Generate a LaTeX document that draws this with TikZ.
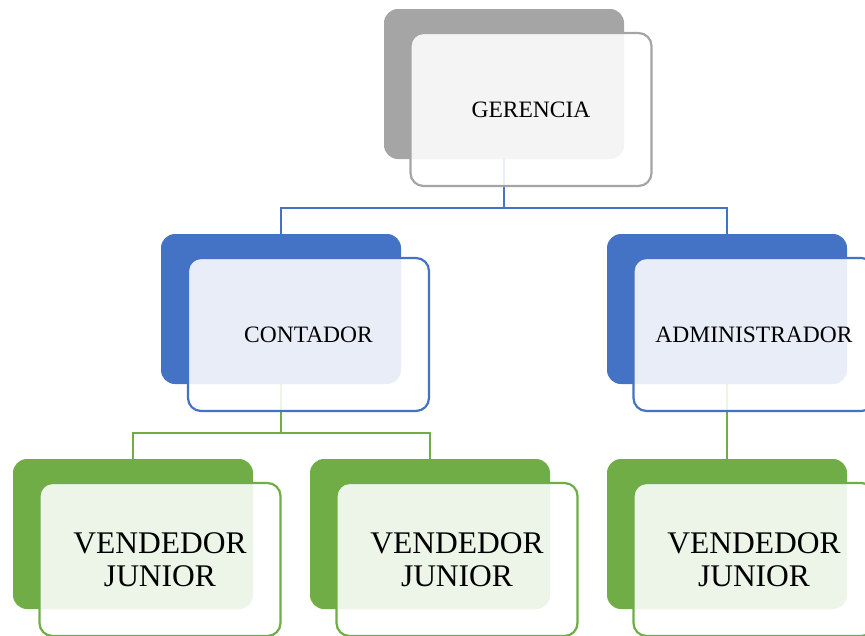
\documentclass[tikz,border=0pt]{standalone}
\usepackage{fontspec}
\setmainfont{Liberation Serif}
\usetikzlibrary{backgrounds}
\definecolor{boxgrey}{HTML}{A5A5A5}
\definecolor{boxblue}{HTML}{4472C4}
\definecolor{boxgreen}{HTML}{70AD47}

\begin{document}
\begin{tikzpicture}[
    x=1pt, y=-1pt,
    back/.style={rectangle, rounded corners=14pt, minimum width=240pt, minimum height=150pt, inner sep=0pt, fill=#1},
    front/.style={rectangle, rounded corners=13pt, minimum width=241pt, minimum height=153pt, inner sep=0pt,
        draw=#1, line width=2.2pt, fill=white, fill opacity=0.88, text opacity=1, align=center},
    link/.style={line width=2pt, draw=#1},
    small label/.style={font=\fontsize{23.5}{26}\selectfont},
    big label/.style={font=\fontsize{31.5}{33}\selectfont}
]
\useasboundingbox (0,0) rectangle (865,635);

% Top level
\node[back=boxgrey] (gerB) at (504,84) {};
\node[front=boxgrey, small label] (ger) at (531,109.5) {GERENCIA};

% Second level
\node[back=boxblue] (conB) at (281,309) {};
\node[front=boxblue, small label] (con) at (308.5,334.5) {CONTADOR};
\node[back=boxblue] (admB) at (727,309) {};
\node[front=boxblue, small label] (adm) at (754,334.5) {ADMINISTRADOR};

% Third level
\node[back=boxgreen] (venAB) at (133,534) {};
\node[front=boxgreen, big label] (venA) at (160,559.5) {VENDEDOR\\JUNIOR};
\node[back=boxgreen] (venBB) at (430,534) {};
\node[front=boxgreen, big label] (venB) at (457,559.5) {VENDEDOR\\JUNIOR};
\node[back=boxgreen] (venCB) at (727,534) {};
\node[front=boxgreen, big label] (venC) at (754,559.5) {VENDEDOR\\JUNIOR};

% Connectors
\begin{scope}[on background layer]
\draw[link=boxblue] (gerB.south) -- ++(0,49) -| (conB.north);
\draw[link=boxblue] (gerB.south) -- ++(0,49) -| (admB.north);
\draw[link=boxgreen] (conB.south) -- ++(0,49) -| (venAB.north);
\draw[link=boxgreen] (conB.south) -- ++(0,49) -| (venBB.north);
\draw[link=boxgreen] (admB.south) -- (venCB.north);
\end{scope}

\end{tikzpicture}
\end{document}
